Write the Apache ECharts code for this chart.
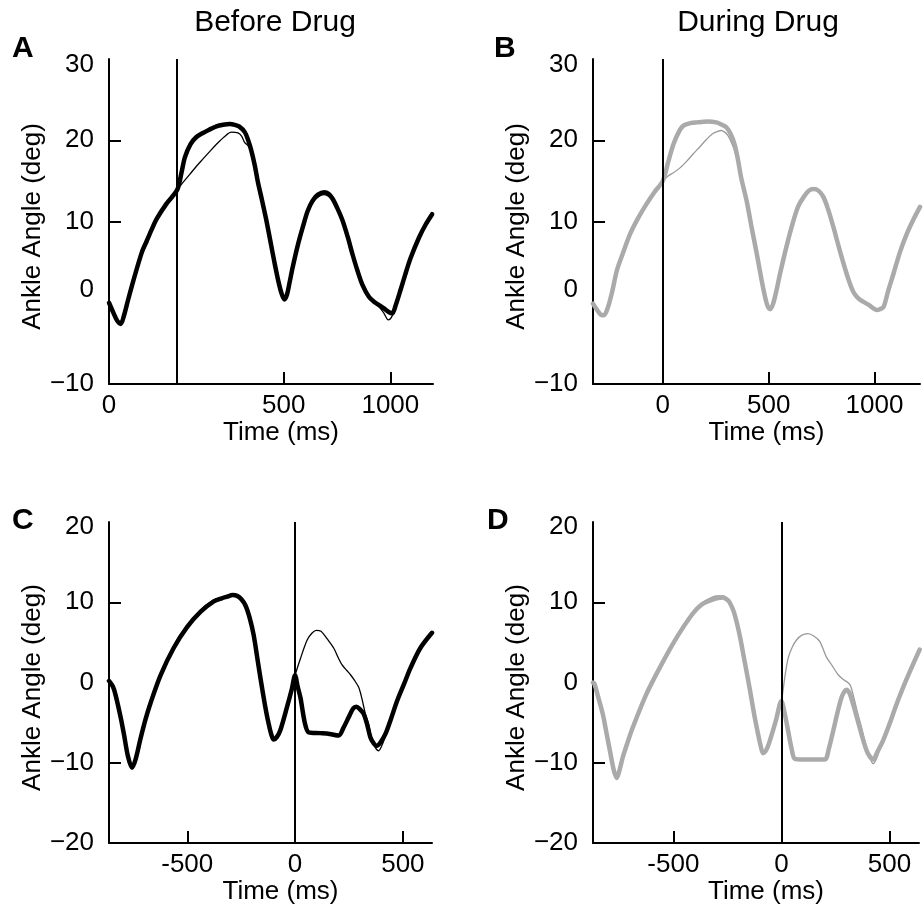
<!DOCTYPE html>
<html>
<head>
<meta charset="utf-8">
<script src="https://cdn.jsdelivr.net/npm/echarts@6/dist/echarts.min.js"></script>
<style>
html,body{margin:0;padding:0;background:#fff;}
#chart{width:923px;height:906px;}
</style>
</head>
<body>
<div id="chart"></div>
<script>
// ---------- DATA (time in ms, ankle angle in deg) ----------
const panelTitles = ['Before Drug', 'During Drug'];
const panelLetters = ['A', 'B', 'C', 'D'];

const yTicksTop = [-10, 0, 10, 20, 30];
const yTicksBottom = [-20, -10, 0, 10, 20];
const xLabelValsA = [-320, 500, 1000];
const xLabelTextA = ['0', '500', '1000'];
const xTicksTop = [0, 500, 1000];
const xTicksBottom = [-500, 0, 500];

// Panel A (before drug, black)
const aThick = [[-320,0.0],[-300,-1.2],[-282,-2.2],[-265,-2.6],[-250,-1.6],[-230,0.4],[-206,2.7],[-166,6.2],[-143,7.6],[-120,9.0],[-97,10.3],[-50,12.2],[0,13.9],[20,16.0],[36,17.9],[62,19.5],[90,20.4],[121,20.9],[150,21.3],[184,21.7],[215,21.9],[247,22.0],[270,21.9],[290,21.7],[317,21.0],[333,20.0],[348,18.7],[364,16.9],[379,14.8],[398,12.6],[417,10.3],[437,7.6],[456,5.0],[475,2.6],[490,1.1],[503,0.4],[515,1.0],[528,2.6],[542,4.4],[565,7.0],[589,9.3],[612,11.3],[636,12.6],[660,13.3],[690,13.6],[710,13.4],[729,12.8],[750,11.7],[776,10.1],[800,8.1],[822,6.0],[845,4.0],[869,2.2],[900,0.7],[925,0.1],[947,-0.3],[970,-0.7],[990,-1.1],[1009,-1.3],[1025,-0.3],[1048,1.6],[1070,3.5],[1095,5.5],[1134,8.0],[1165,9.6],[1196,10.9]];
const aThin = [[-320,0.0],[-300,-1.2],[-282,-2.2],[-265,-2.6],[-250,-1.6],[-230,0.4],[-206,2.7],[-166,6.2],[-143,7.6],[-120,9.0],[-97,10.3],[-50,12.2],[0,13.9],[30,14.9],[59,15.8],[90,16.8],[121,17.7],[152,18.6],[184,19.5],[220,20.4],[254,21.0],[285,20.9],[302,20.5],[317,19.7],[333,19.3],[348,18.5],[364,16.9],[379,14.8],[398,12.6],[417,10.3],[437,7.6],[456,5.0],[475,2.6],[490,1.1],[503,0.4],[515,1.0],[528,2.6],[542,4.4],[565,6.8],[589,9.1],[612,11.0],[636,12.3],[660,13.0],[690,13.3],[710,13.1],[729,12.6],[750,11.6],[776,10.1],[800,8.1],[822,6.0],[845,4.0],[869,2.2],[900,0.7],[925,0.0],[947,-0.5],[970,-1.3],[990,-2.1],[1005,-1.8],[1025,-0.4],[1048,1.6],[1070,3.5],[1095,5.5],[1134,8.0],[1165,9.6],[1196,10.9]];

// Panel B (during drug, grey)
const bThick = [[-330,-0.1],[-310,-0.9],[-290,-1.5],[-277,-1.5],[-260,-0.6],[-240,1.3],[-217,4.0],[-190,6.0],[-154,8.5],[-115,10.5],[-76,12.2],[-40,13.6],[0,15.0],[25,17.3],[50,19.5],[75,21.0],[97,21.8],[130,22.1],[160,22.2],[210,22.3],[253,22.2],[280,21.9],[300,21.6],[320,20.8],[339,19.5],[355,17.6],[370,15.4],[397,12.4],[420,9.2],[444,6.0],[465,3.0],[483,0.7],[495,-0.4],[507,-0.8],[520,-0.2],[535,1.3],[554,3.6],[585,7.0],[617,10.1],[640,11.9],[665,13.0],[690,13.8],[712,14.0],[735,13.8],[759,13.0],[782,11.4],[806,9.3],[830,7.0],[854,4.8],[878,2.8],[901,1.3],[925,0.5],[948,0.1],[975,-0.3],[995,-0.7],[1011,-0.9],[1025,-0.8],[1043,-0.5],[1065,1.5],[1090,3.6],[1120,6.2],[1153,8.5],[1185,10.3],[1215,11.8]];
const bThin = [[-330,-0.1],[-310,-1.0],[-290,-1.7],[-277,-1.7],[-260,-0.7],[-240,1.2],[-217,4.0],[-190,6.0],[-154,8.5],[-115,10.5],[-76,12.2],[-40,13.6],[0,15.0],[25,15.6],[50,16.0],[81,16.6],[112,17.4],[143,18.3],[175,19.2],[206,20.1],[235,20.8],[260,21.1],[276,21.2],[292,21.0],[307,20.6],[323,19.8],[339,18.7],[355,17.2],[370,15.4],[397,12.4],[420,9.2],[444,6.0],[465,3.0],[483,0.7],[495,-0.4],[507,-0.8],[520,-0.2],[535,1.3],[554,3.6],[585,7.0],[617,10.1],[640,11.9],[665,13.0],[690,13.8],[712,14.0],[735,13.8],[759,13.0],[782,11.4],[806,9.3],[830,7.0],[854,4.8],[878,2.8],[901,1.3],[925,0.5],[948,0.1],[975,-0.3],[995,-0.7],[1011,-0.9],[1025,-0.8],[1043,-0.5],[1065,1.5],[1090,3.6],[1120,6.2],[1153,8.5],[1185,10.3],[1215,11.8]];

// Panel C (before drug, black)
const cThick = [[-863,0.2],[-845,-0.5],[-833,-1.5],[-810,-4.2],[-794,-6.4],[-775,-9.2],[-756,-10.6],[-740,-9.6],[-717,-7.0],[-695,-4.7],[-671,-2.6],[-624,0.9],[-563,4.3],[-501,6.9],[-439,8.8],[-377,10.1],[-340,10.5],[-315,10.7],[-290,10.9],[-269,10.8],[-250,10.4],[-230,9.6],[-210,8.0],[-192,5.9],[-172,2.5],[-153,-0.7],[-135,-3.5],[-122,-5.2],[-110,-6.5],[-99,-7.1],[-85,-6.8],[-68,-5.9],[-37,-3.0],[-15,-0.8],[0,0.9],[12,-0.5],[25,-1.9],[45,-5.0],[63,-6.2],[117,-6.3],[160,-6.4],[202,-6.6],[225,-5.6],[249,-4.3],[270,-3.2],[284,-3.0],[300,-3.3],[318,-3.9],[335,-5.3],[349,-6.8],[365,-7.6],[378,-7.9],[395,-7.5],[419,-6.4],[445,-4.5],[473,-2.3],[505,-0.2],[535,1.8],[581,4.3],[635,6.2]];
const cThin = [[-863,0.2],[-845,-0.5],[-833,-1.5],[-810,-4.1],[-794,-6.2],[-775,-9.0],[-756,-10.3],[-740,-9.4],[-717,-6.8],[-695,-4.5],[-671,-2.3],[-624,1.2],[-563,4.6],[-501,7.1],[-439,9.0],[-377,10.3],[-340,10.6],[-315,10.8],[-290,10.9],[-269,10.8],[-250,10.4],[-230,9.6],[-210,8.0],[-192,5.9],[-172,2.5],[-153,-0.7],[-135,-3.5],[-122,-5.2],[-110,-6.5],[-99,-7.2],[-85,-6.9],[-68,-5.9],[-37,-3.0],[-15,-0.8],[0,0.9],[25,3.0],[56,5.3],[80,6.2],[99,6.5],[120,6.4],[150,5.4],[179,4.3],[202,3.0],[218,2.2],[240,1.5],[256,1.0],[275,0.3],[295,-0.6],[310,-2.0],[326,-3.9],[341,-5.2],[357,-7.2],[372,-8.1],[388,-8.5],[400,-8.0],[419,-6.7],[445,-4.6],[473,-2.4],[505,-0.3],[535,1.7],[581,4.2],[635,6.1]];

// Panel D (during drug, grey)
const dThick = [[-872,0.0],[-866,-0.1],[-850,-1.6],[-827,-3.9],[-808,-6.5],[-788,-9.3],[-775,-11.0],[-762,-11.9],[-750,-11.0],[-734,-9.3],[-710,-7.3],[-688,-5.6],[-626,-1.5],[-564,1.8],[-487,5.5],[-410,8.6],[-370,9.7],[-332,10.2],[-300,10.5],[-270,10.6],[-250,10.3],[-240,10.0],[-220,8.8],[-193,5.9],[-170,2.6],[-147,-0.7],[-127,-3.8],[-108,-6.4],[-95,-8.0],[-85,-8.8],[-70,-8.4],[-54,-7.3],[-25,-4.7],[0,-2.3],[15,-3.8],[31,-6.0],[47,-8.2],[62,-9.5],[100,-9.6],[150,-9.6],[201,-9.6],[220,-8.2],[240,-6.0],[260,-3.7],[278,-1.9],[290,-1.2],[301,-0.9],[315,-1.3],[332,-2.7],[355,-4.9],[379,-7.2],[400,-8.8],[425,-9.6],[445,-8.6],[471,-7.2],[500,-5.2],[533,-2.7],[565,-0.5],[595,1.4],[640,4.1]];
const dThin = [[-872,0.0],[-866,-0.1],[-850,-1.6],[-827,-3.9],[-808,-6.5],[-788,-9.3],[-775,-11.0],[-762,-11.8],[-750,-10.9],[-734,-9.1],[-710,-7.1],[-688,-5.4],[-626,-1.3],[-564,2.0],[-487,5.7],[-410,8.8],[-370,9.9],[-332,10.5],[-300,10.8],[-270,10.8],[-250,10.5],[-240,10.1],[-220,8.8],[-193,5.9],[-170,2.6],[-147,-0.7],[-127,-3.8],[-108,-6.4],[-95,-8.0],[-85,-8.8],[-70,-8.4],[-54,-7.3],[-25,-4.7],[0,-2.3],[15,0.5],[31,3.0],[50,4.4],[70,5.3],[95,5.9],[123,6.1],[150,5.8],[178,5.1],[208,3.2],[235,2.1],[262,1.0],[285,0.4],[308,0.0],[320,-0.4],[332,-1.5],[355,-4.0],[371,-5.6],[400,-8.6],[425,-10.1],[440,-9.5],[471,-7.2],[500,-5.2],[533,-2.7],[565,-0.5],[595,1.4],[640,4.1]];

const xRanges = [[-320, 1200], [-330, 1215], [-863, 635], [-872, 637]];

// ---------- CHART ----------
const FONT = '"Liberation Sans", Arial, Helvetica, sans-serif';
const BLACK = '#000000';
const GREY_THICK = '#aaaaaa';
const GREY_THIN = '#999999';
const TICK_FS = 26;
const NAME_FS = 26;

const grids = [
  {left: 109, top: 59, width: 324, height: 325},
  {left: 593, top: 59, width: 327, height: 325},
  {left: 109, top: 522, width: 323, height: 326},
  {left: 593, top: 522, width: 326, height: 326}
];

function yLabel(v, top) {
  const s = v < 0 ? '\u2212' + Math.abs(v) : String(v);
  if (top && v === 0) return '{up|' + s + '}';
  if ((top && v === 30) || (!top && v === 20)) return '{down|' + s + '}';
  return s;
}

const xAxes = grids.map((g, i) => {
  const top = i < 2;
  const labelVals = i === 0 ? xLabelValsA : (top ? xTicksTop : xTicksBottom);
  return {
    type: 'value', gridIndex: i, min: xRanges[i][0], max: xRanges[i][1],
    splitLine: {show: false},
    axisLine: {show: true, onZero: false, lineStyle: {color: BLACK, width: 2}},
    axisTick: {show: true, inside: true, length: 12, lineStyle: {color: BLACK, width: 2},
               customValues: top ? xTicksTop : xTicksBottom},
    axisLabel: {
      customValues: labelVals, fontSize: TICK_FS, color: BLACK, fontFamily: FONT, margin: 9,
      formatter: v => i === 0 ? xLabelTextA[xLabelValsA.indexOf(v)] : String(v)
    },
    name: 'Time (ms)', nameLocation: 'middle', nameGap: 31,
    nameTextStyle: {fontSize: NAME_FS, color: BLACK, fontFamily: FONT, padding: [0, 0, 0, 20]}
  };
});

const yAxes = grids.map((g, i) => {
  const top = i < 2;
  return {
    type: 'value', gridIndex: i,
    min: top ? -10 : -20, max: top ? 30 : 20, interval: 10,
    splitLine: {show: false},
    axisLine: {show: true, onZero: false, lineStyle: {color: BLACK, width: 2}},
    axisTick: {show: true, inside: true, length: 12, lineStyle: {color: BLACK, width: 2},
               customValues: top ? [10, 20] : [-10, 10]},
    axisLabel: {
      customValues: top ? yTicksTop : yTicksBottom,
      fontSize: TICK_FS, color: BLACK, fontFamily: FONT, margin: 15,
      formatter: v => yLabel(v, top),
      rich: {
        up: {fontSize: TICK_FS, fontFamily: FONT, color: BLACK, padding: [0, 0, 26, 0]},
        down: {fontSize: TICK_FS, fontFamily: FONT, color: BLACK, padding: [top ? 12 : 9, 0, 0, 0]}
      }
    },
    name: 'Ankle Angle (deg)', nameLocation: 'middle', nameGap: i % 2 === 0 ? 48 : 45,
    nameTextStyle: {fontSize: NAME_FS, color: BLACK, fontFamily: FONT, padding: [0, 10, 0, 0]}
  };
});

const panels = [
  {thick: aThick, thin: aThin, c1: BLACK, c2: BLACK},
  {thick: bThick, thin: bThin, c1: GREY_THICK, c2: GREY_THIN},
  {thick: cThick, thin: cThin, c1: BLACK, c2: BLACK},
  {thick: dThick, thin: dThin, c1: GREY_THICK, c2: GREY_THIN}
];

const series = [];
panels.forEach((p, i) => {
  series.push({
    type: 'line', xAxisIndex: i, yAxisIndex: i, data: p.thin, smooth: 0.3,
    showSymbol: false, lineStyle: {color: p.c2, width: 1.3}, z: 2, silent: true
  });
  series.push({
    type: 'line', xAxisIndex: i, yAxisIndex: i, data: p.thick, smooth: 0.3,
    showSymbol: false, lineStyle: {color: p.c1, width: 4.5, cap: 'round', join: 'round'}, z: 3, silent: true,
    markLine: {
      silent: true, symbol: 'none', label: {show: false},
      lineStyle: {color: BLACK, width: 2, type: 'solid'},
      data: [{xAxis: 0}]
    }
  });
});

const titles = [
  {text: panelTitles[0], left: 275, top: 8, textAlign: 'center',
   textStyle: {fontSize: 30, fontWeight: 'normal', color: BLACK, fontFamily: FONT}},
  {text: panelTitles[1], left: 758, top: 8, textAlign: 'center',
   textStyle: {fontSize: 30, fontWeight: 'normal', color: BLACK, fontFamily: FONT}},
  {text: panelLetters[0], left: 12, top: 34, textStyle: {fontSize: 30, fontWeight: 'bold', color: BLACK, fontFamily: FONT}},
  {text: panelLetters[1], left: 494, top: 34, textStyle: {fontSize: 30, fontWeight: 'bold', color: BLACK, fontFamily: FONT}},
  {text: panelLetters[2], left: 12, top: 506, textStyle: {fontSize: 30, fontWeight: 'bold', color: BLACK, fontFamily: FONT}},
  {text: panelLetters[3], left: 487, top: 506, textStyle: {fontSize: 30, fontWeight: 'bold', color: BLACK, fontFamily: FONT}}
];

const chart = echarts.init(document.getElementById('chart'), null, {renderer: 'canvas'});
chart.setOption({
  animation: false,
  backgroundColor: '#ffffff',
  title: titles.map(t => Object.assign({padding: 0}, t)),
  grid: grids,
  xAxis: xAxes,
  yAxis: yAxes,
  series: series
});
</script>
</body>
</html>
